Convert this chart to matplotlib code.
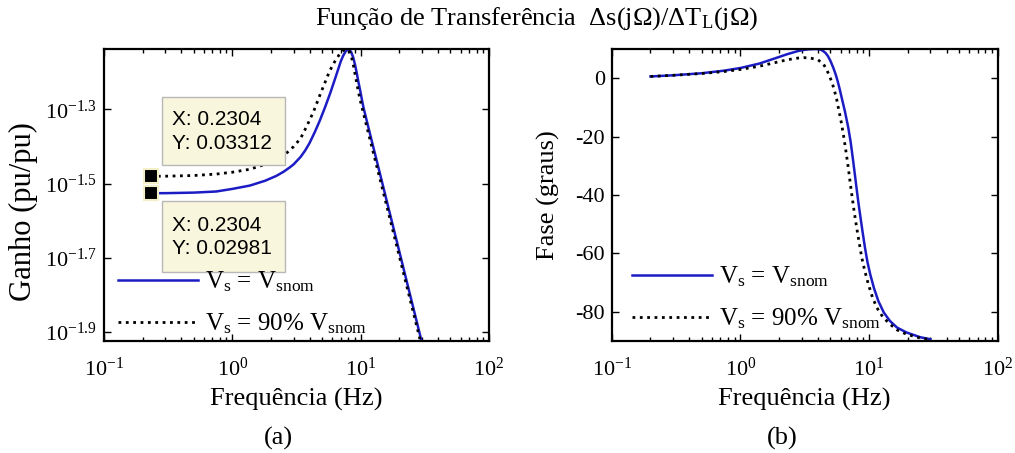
import matplotlib
matplotlib.use("Agg")
import matplotlib.pyplot as plt
import numpy as np
from matplotlib.ticker import FixedLocator, FuncFormatter, NullLocator
from matplotlib.patches import Rectangle

# ganho |ds/dTL|
freq_g_nom = [0.2304, 0.3, 0.5, 0.75, 1.0, 1.37, 1.8, 2.2, 2.5, 2.8, 3.0, 3.4, 3.7, 4.0, 4.4, 4.8,
              5.3, 5.8, 6.3, 6.7, 7.0, 7.3, 7.65, 7.85, 8.05, 8.25, 8.45, 8.75, 9.0, 9.3, 9.6,
              9.9, 10.2, 10.5, 12, 14.2, 19.1, 25, 30]
gain_nom = [0.02981, 0.02982, 0.02992, 0.03013, 0.03062, 0.03126, 0.03221, 0.03319, 0.03404,
            0.03499, 0.03565, 0.03733, 0.03890, 0.04074, 0.04365, 0.04677, 0.05105, 0.05559,
            0.06053, 0.06457, 0.06761, 0.06998, 0.07194, 0.07261, 0.07278, 0.07228, 0.07145,
            0.06918, 0.06653, 0.06310, 0.05943, 0.05649, 0.05346, 0.05082, 0.04217, 0.03342,
            0.02213, 0.01521, 0.01180]
freq_g_90 = [0.2304, 0.3, 0.5, 0.75, 1.0, 1.37, 1.8, 2.2, 2.5, 3.0, 3.4, 3.8, 4.3, 4.8, 5.4, 5.7,
             6.0, 6.25, 6.5, 6.75, 7.0, 7.25, 7.5, 7.75, 8.0, 8.25, 8.5, 8.8, 9.1, 9.4, 9.7,
             10.0, 10.5, 12, 14.2, 19.1, 25, 30]
gain_90 = [0.03312, 0.03313, 0.03327, 0.03357, 0.03396, 0.03459, 0.03565, 0.03664, 0.03758,
           0.03981, 0.04188, 0.04519, 0.04955, 0.05470, 0.06053, 0.06339, 0.06561, 0.06730,
           0.06871, 0.07015, 0.07129, 0.07211, 0.07261, 0.07278, 0.07244, 0.07145, 0.06918,
           0.06561, 0.06166, 0.05808, 0.05495, 0.05248, 0.04898, 0.04074, 0.03236, 0.02148,
           0.01479, 0.01148]

# fase (graus)
freq_p_nom = [0.2, 0.3, 0.5, 0.75, 1.0, 1.4, 1.8, 2.3, 2.8, 3.1, 3.4, 3.9, 4.2, 4.4, 4.6, 4.8,
              5.0, 5.27, 5.5, 5.7, 5.9, 6.12, 6.5, 6.89, 7.2, 7.53, 7.77, 8.01, 8.25, 8.5, 8.9,
              9.29, 9.7, 10.2, 10.9, 11.8, 13, 14.5, 16.5, 19.6, 25, 30]
phase_nom = [0.6, 1.0, 1.7, 2.6, 3.5, 5.0, 6.6, 8.2, 9.3, 9.7, 9.9, 10.0, 9.8, 9.3, 8.6, 7.5,
             6.0, 3.6, 1.3, -1.0, -3.6, -6.6, -11.5, -16.9, -22.0, -28.5, -33.3, -38.0, -42.4,
             -46.5, -52.6, -58.0, -62.8, -67.1, -71.8, -76.3, -80.2, -83.1, -85.4, -87.1, -88.7,
             -89.4]
freq_p_90 = [0.2, 0.3, 0.5, 0.75, 1.0, 1.4, 1.8, 2.3, 2.8, 3.1, 3.5, 4.0, 4.4, 4.7, 4.98, 5.2,
             5.4, 5.6, 5.77, 6.05, 6.31, 6.6, 6.89, 7.1, 7.33, 7.65, 8.01, 8.4, 8.77, 9.3, 9.87,
             10.6, 11.5, 12.8, 14.5, 16.5, 19.6, 25, 30]
phase_90 = [0.6, 1.0, 1.6, 2.3, 3.0, 4.1, 5.2, 6.3, 6.9, 7.05, 6.9, 6.3, 5.0, 2.8, 0.2, -2.0,
            -4.5, -7.2, -10.1, -14.6, -19.2, -24.8, -30.6, -35.1, -39.7, -45.5, -51.2, -56.6,
            -61.4, -66.3, -70.5, -74.9, -78.6, -81.8, -84.2, -86.2, -87.7, -89.0, -89.5]

# data tips
tip_x = [0.2304, 0.2304]
tip_y = [0.03312, 0.02981]

gain_ticks = [-1.9, -1.7, -1.5, -1.3]
phase_ticks = [-80, -60, -40, -20, 0]

lbl_nom = r"V$_s$ = V$_{snom}$"
lbl_90 = r"V$_s$ = 90% V$_{snom}$"

plt.rcParams["font.family"] = ["Liberation Serif", "DejaVu Serif"]
plt.rcParams["mathtext.fontset"] = "custom"
plt.rcParams["mathtext.rm"] = "Liberation Serif"
plt.rcParams["mathtext.it"] = "Liberation Serif:italic"
plt.rcParams["mathtext.default"] = "regular"
plt.rcParams["axes.unicode_minus"] = False

blue = "#1c1cc4"

fig = plt.figure(figsize=(10.15, 4.53), dpi=100)
ax1 = fig.add_axes([0.1025, 0.2472, 0.3793, 0.6446])
ax2 = fig.add_axes([0.6027, 0.2472, 0.3803, 0.6446])

ax1.plot(freq_g_nom, gain_nom, color=blue, lw=1.8, label=lbl_nom)
ax1.plot(freq_g_90, gain_90, color="black", lw=2, ls=":", label=lbl_90)
ax2.plot(freq_p_nom, phase_nom, color=blue, lw=1.8, label=lbl_nom)
ax2.plot(freq_p_90, phase_90, color="black", lw=2, ls=":", label=lbl_90)

for ax, lx, ly in ((ax1, 0.036, 0.017), (ax2, 0.052, 0.034)):
    ax.set_xscale("log")
    ax.set_xlim(0.1, 100)
    ax.tick_params(which="both", direction="in", top=True, right=True, labelsize=16, width=1)
    ax.tick_params(which="major", length=5)
    ax.tick_params(axis="x", which="major", pad=12)
    ax.tick_params(axis="y", which="major", pad=5)
    ax.tick_params(which="minor", length=3)
    for s in ax.spines.values():
        s.set_linewidth(1.6)
    ax.set_xlabel("Frequência (Hz)", fontsize=19)
    ax.xaxis.set_label_coords(0.5, -0.2)
    ax.xaxis.label.set_verticalalignment("center")
    ax.legend(loc="lower left", bbox_to_anchor=(lx, ly), frameon=False, fontsize=18,
              handlelength=3.2, handletextpad=0.28, labelspacing=0.7, borderaxespad=0,
              borderpad=0)

ax1.set_yscale("log")
ax1.set_ylim(10 ** -1.924, 10 ** -1.137)
ax1.yaxis.set_major_locator(FixedLocator([10 ** v for v in gain_ticks]))
ax1.yaxis.set_major_formatter(FuncFormatter(lambda v, p: r"$10^{%.1f}$" % np.log10(v)))
ax1.yaxis.set_minor_locator(NullLocator())
ax1.set_ylabel("Ganho (pu/pu)", fontsize=22)
ax1.yaxis.set_label_coords(-0.21, 0.445)
ax1.yaxis.label.set_verticalalignment("center")

ax2.set_ylim(-90, 10)
ax2.set_yticks(phase_ticks)
ax2.set_ylabel("Fase (graus)", fontsize=19)
ax2.yaxis.set_label_coords(-0.165, 0.5)
ax2.yaxis.label.set_verticalalignment("center")

# data tips
ax1.plot(tip_x, tip_y, ls="none", marker="s", ms=10, color="black", mec="#f3f0c8", mew=1.5, zorder=5)
boxes = [(0.151, 0.603, 0.319, 0.233, 0.757, 0.675, 0),
         (0.151, 0.236, 0.319, 0.243, 0.397, 0.318, 1)]
for x0, y0, w, h, ya, yb, i in boxes:
    ax1.add_patch(Rectangle((x0, y0), w, h, transform=ax1.transAxes, facecolor="#f8f6dc",
                            edgecolor="#b8b8b8", lw=1, zorder=4))
    ax1.text(0.177, ya, "X: %.4f" % tip_x[i], transform=ax1.transAxes, fontsize=15,
             family="Liberation Sans", va="center", zorder=6)
    ax1.text(0.177, yb, "Y: %.5f" % tip_y[i], transform=ax1.transAxes, fontsize=15,
             family="Liberation Sans", va="center", zorder=6)

fig.text(0.529, 0.96, "Função de Transferência  Δs(jΩ)/ΔT$_L$(jΩ)",
         ha="center", va="center", fontsize=19)
fig.text(0.274, 0.033, "(a)", ha="center", va="center", fontsize=19)
fig.text(0.771, 0.033, "(b)", ha="center", va="center", fontsize=19)

fig.savefig("out.png", dpi=100)
